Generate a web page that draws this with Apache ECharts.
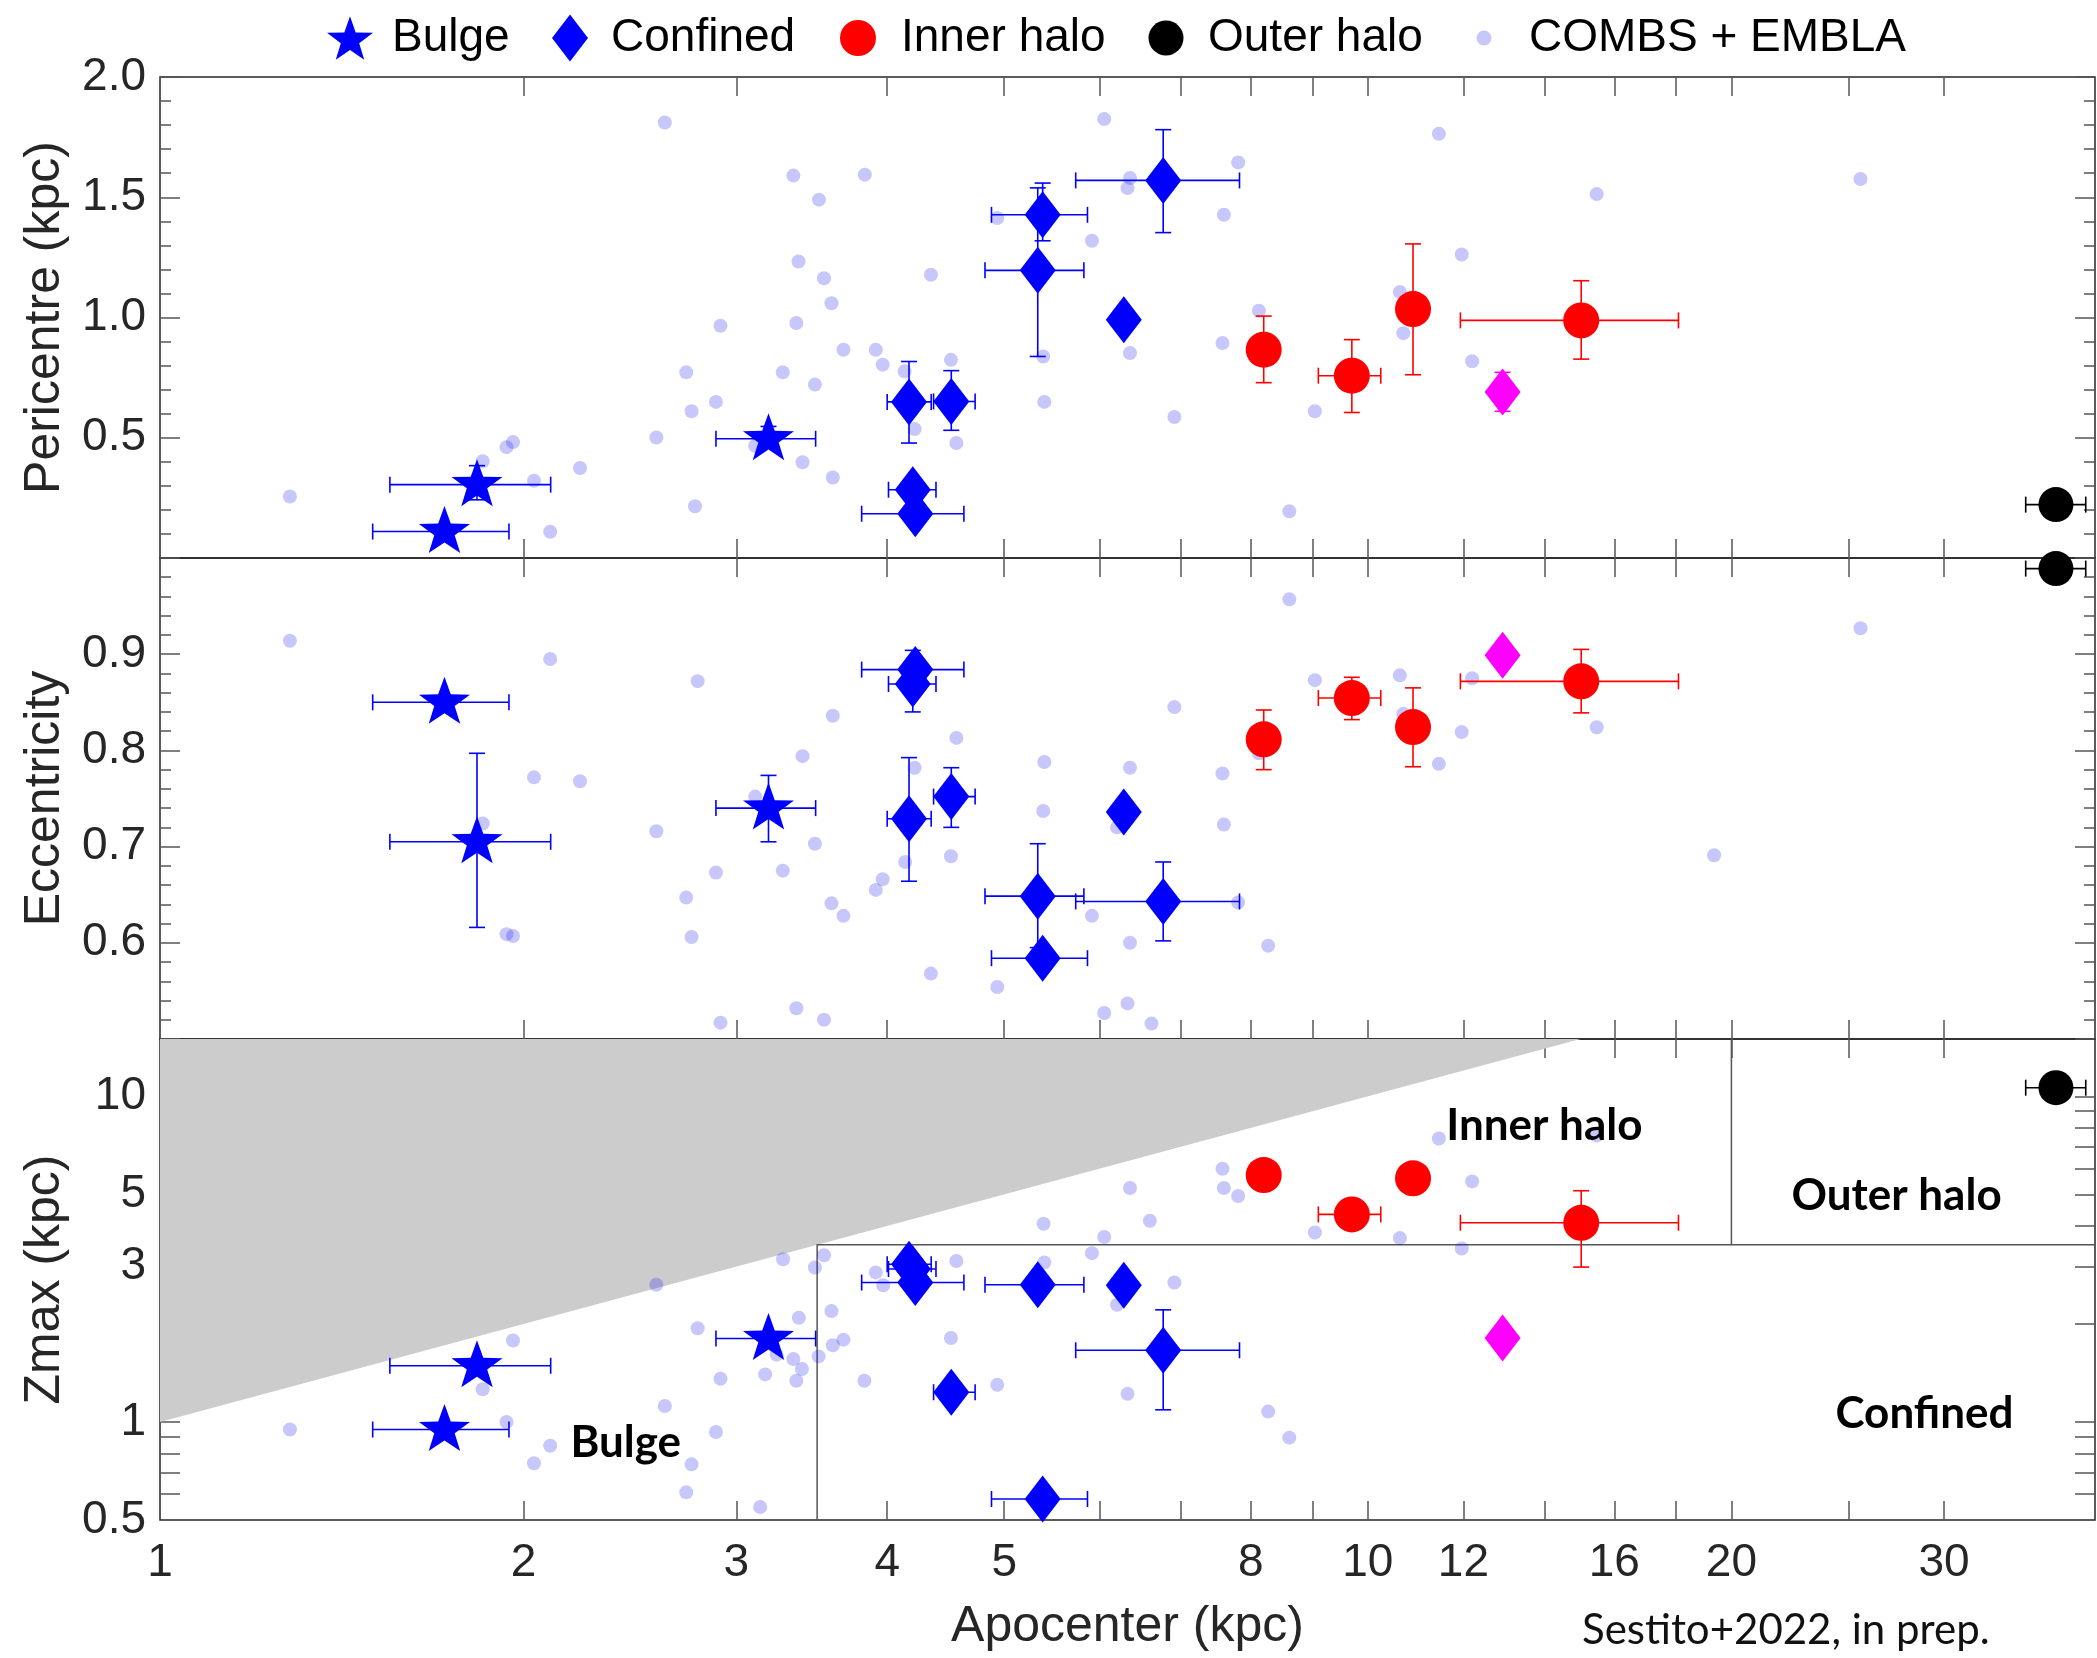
<!DOCTYPE html>
<html>
<head>
<meta charset="utf-8">
<title>Apocenter vs pericentre, eccentricity and Zmax</title>
<script src="https://cdn.jsdelivr.net/npm/echarts@6/dist/echarts.min.js"></script>
<style>
html, body { margin: 0; padding: 0; background: #fff; }
#main { width: 2097px; height: 1658px; }
</style>
</head>
<body>
<div id="main"></div>
<script>
// COMBS + EMBLA comparison sample, one list per panel: [apocenter, value]
var combsPeri = [
  [1.281,0.256],[1.85,0.402],[1.936,0.461],[1.96,0.482],[2.04,0.321],[2.104,0.109],[2.227,0.374],
  [2.576,0.501],[2.618,1.811],[2.727,0.772],[2.755,0.610],[2.773,0.215],[2.886,0.649],[2.911,0.966],
  [3.11,0.467],[3.278,0.772],[3.345,1.590],[3.364,0.977],[3.378,1.233],[3.404,0.398],[3.485,0.721],
  [3.512,1.490],[3.546,1.163],[3.597,1.059],[3.606,0.335],[3.68,0.866],[3.833,1.594],[3.914,0.866],
  [3.966,0.804],[4.135,0.776],[4.215,0.536],[4.348,1.178],[4.517,0.824],[4.564,0.478],[4.934,1.414],
  [5.386,0.838],[5.397,0.649],[5.91,1.319],[6.05,1.825],[6.325,1.538],[6.355,1.580],[6.355,0.852],
  [6.916,0.586],[7.58,0.894],[7.60,1.427],[7.81,1.645],[8.125,1.028],[8.61,0.194],[9.04,0.610],
  [10.63,1.106],[10.70,0.935],[11.45,1.764],[11.96,1.262],[12.2,0.818],[15.47,1.513],[25.58,1.576]
];
var combsEcc = [
  [1.281,0.914],[1.85,0.724],[1.936,0.609],[1.96,0.607],[2.04,0.772],[2.104,0.895],[2.227,0.768],
  [2.576,0.716],[2.727,0.647],[2.755,0.606],[2.787,0.872],[2.886,0.673],[2.911,0.517],[3.11,0.752],
  [3.278,0.675],[3.364,0.532],[3.404,0.794],[3.485,0.703],[3.546,0.520],[3.597,0.641],[3.606,0.836],
  [3.68,0.628],[3.914,0.655],[3.966,0.666],[4.14,0.684],[4.215,0.782],[4.348,0.568],[4.517,0.690],
  [4.564,0.813],[4.934,0.554],[5.386,0.737],[5.397,0.788],[5.91,0.628],[6.05,0.527],[6.325,0.537],
  [6.2,0.72],[6.355,0.782],[6.355,0.600],[6.62,0.516],[6.916,0.845],[7.58,0.776],[7.60,0.723],
  [7.81,0.642],[8.125,0.797],[8.27,0.597],[8.61,0.957],[9.04,0.873],[10.63,0.878],[10.70,0.838],
  [11.45,0.786],[11.96,0.819],[12.2,0.875],[15.47,0.824],[19.35,0.691],[25.58,0.927]
];
var combsZmax = [
  [1.281,0.948],[1.85,1.26],[1.936,1.00],[1.96,1.78],[2.04,0.747],[2.104,0.845],[2.576,2.64],
  [2.618,1.12],[2.727,0.608],[2.755,0.741],[2.787,1.94],[2.886,0.932],[2.911,1.357],[3.14,0.548],
  [3.17,1.40],[3.24,1.61],[3.28,3.16],[3.345,1.56],[3.364,1.338],[3.38,2.09],[3.40,1.455],
  [3.485,2.98],[3.51,1.59],[3.546,3.25],[3.597,2.19],[3.606,1.72],[3.68,1.79],[3.83,1.338],
  [3.914,2.88],[3.97,2.63],[4.517,1.81],[4.564,3.12],[4.934,1.30],[5.39,4.06],[5.397,3.09],
  [5.91,3.30],[6.05,3.70],[6.2,2.29],[6.325,1.22],[6.355,5.23],[6.6,4.15],[6.916,2.68],
  [7.58,5.99],[7.60,5.23],[7.81,4.94],[8.27,1.076],[8.61,0.895],[9.04,3.82],[10.63,3.67],
  [11.45,7.42],[11.96,3.41],[12.2,5.48],[15.47,7.58]
];

// programme stars, per class
var bulgeApo = [1.72, 1.83, 3.19];
var bulgeApoErr = [[1.50, 1.945], [1.55, 2.106], [2.886, 3.49]];
var bulgePeri = [0.11, 0.305, 0.496];
var bulgePeriErr = [null, [0.242, 0.384], [0.46, 0.547]];
var bulgeEcc = [0.850, 0.705, 0.740];
var bulgeEccErr = [null, [0.616, 0.797], [0.705, 0.774]];
var bulgeZmax = [0.948, 1.488, 1.804];
var bulgeZmaxErr = [null, null, null];

var confApo = [4.17, 4.52, 4.20, 4.22, 5.38, 5.33, 6.28, 6.77];
var confApoErr = [[4.0, 4.35], [4.37, 4.73], [4.01, 4.39], [3.81, 4.63], [4.88, 5.86], [4.82, 5.82], null, [5.73, 7.83]];
var confPeri = [0.649, 0.651, 0.284, 0.184, 1.427, 1.196, 0.991, 1.570];
var confPeriErr = [[0.478, 0.817], [0.531, 0.779], null, null, [1.319, 1.559], [0.838, 1.539], null, [1.353, 1.781]];
var confEcc = [0.729, 0.752, 0.869, 0.884, 0.584, 0.6485, 0.736, 0.643];
var confEccErr = [[0.664, 0.7925], [0.720, 0.782], [0.840, 0.904], null, null, [0.595, 0.703], null, [0.602, 0.684]];
var confZmax = [3.05, 1.234, 2.95, 2.68, 0.58, 2.64, 2.63, 1.66];
var confZmaxErr = [null, null, null, null, null, null, null, [1.09, 2.21]];

var innerApo = [8.20, 9.70, 10.90, 15.02];
var innerApoErr = [null, [9.10, 10.25], null, [11.93, 18.08]];
var innerPeri = [0.866, 0.758, 1.035, 0.988];
var innerPeriErr = [[0.729, 1.006], [0.605, 0.908], [0.762, 1.306], [0.827, 1.153]];
var innerEcc = [0.8115, 0.8544, 0.8243, 0.8718];
var innerEccErr = [[0.780, 0.842], [0.832, 0.876], [0.783, 0.865], [0.839, 0.905]];
var innerZmax = [5.73, 4.34, 5.60, 4.09];
var innerZmaxErr = [null, null, null, [2.99, 5.13]];

var outerApo = [37.13];
var outerApoErr = [[35.05, 39.3]];
var outerPeri = [0.222];
var outerEcc = [0.989];
var outerZmax = [10.63];

var oddApo = [12.93];
var oddPeri = [0.690];
var oddPeriErr = [[0.61, 0.772]];
var oddEcc = [0.899];
var oddZmax = [1.81];

// axis ticks
var apoTicks = [2, 3, 4, 5, 6, 7, 8, 9, 10, 12, 14, 16, 18, 20, 25, 30];
var apoLabels = [1, 2, 3, 4, 5, 8, 10, 12, 16, 20, 30];
var zmaxTicks = [0.6, 0.7, 0.8, 0.9, 1, 2, 3, 4, 5, 6, 7, 8, 9, 10];
var zmaxLabels = [0.5, 1, 3, 5, 10];

// Zmax = apocenter limit and the class boxes in the bottom panel
var zmaxLimit = [[1, 1], [15, 15], [1, 15]];
var confinedBox = [[3.5, 0.5], [3.5, 3.5], [40, 3.5]];
var haloSplit = [[20, 3.5], [20, 15]];
var regionNames = ['Inner halo', 'Outer halo', 'Confined', 'Bulge'];
var regionPos = [[14.0, 8.1], [27.4, 4.95], [28.9, 1.06], [2.43, 0.86]];

var lg = Math.log10;
var FONT = '"Liberation Sans", Arial, Helvetica, sans-serif';
var TXT = '#262626';
var tickLine = { color: '#555', width: 1.5 };

function starSymbol() {
  var pts = [];
  for (var k = 0; k < 10; k++) {
    var r = k % 2 === 0 ? 1 : 0.4;
    var a = -Math.PI / 2 + k * Math.PI / 5;
    pts.push((r * Math.cos(a)).toFixed(4) + ',' + (r * Math.sin(a)).toFixed(4));
  }
  return 'path://M' + pts.join('L') + 'Z';
}
var STAR = starSymbol();
var DIAMOND = 'path://M18,0L36,23.5L18,47L0,23.5Z';

var groups = [
  { name: 'Bulge', color: '#0000ff', symbol: STAR, size: [51, 47], offset: [0, -2],
    apo: bulgeApo, apoErr: bulgeApoErr,
    vals: [bulgePeri, bulgeEcc, bulgeZmax], errs: [bulgePeriErr, bulgeEccErr, bulgeZmaxErr] },
  { name: 'Confined', color: '#0000ff', symbol: DIAMOND, size: [36, 47], offset: [0, 0],
    apo: confApo, apoErr: confApoErr,
    vals: [confPeri, confEcc, confZmax], errs: [confPeriErr, confEccErr, confZmaxErr] },
  { name: 'Inner halo', color: '#ff0000', symbol: 'circle', size: 36, offset: [0, 0],
    apo: innerApo, apoErr: innerApoErr,
    vals: [innerPeri, innerEcc, innerZmax], errs: [innerPeriErr, innerEccErr, innerZmaxErr] },
  { name: 'Outer halo', color: '#000000', symbol: 'circle', size: 35, offset: [0, 0],
    apo: outerApo, apoErr: outerApoErr,
    vals: [outerPeri, outerEcc, outerZmax], errs: [[null], [null], [null]] },
  { name: 'Unclassified', color: '#ff00ff', symbol: DIAMOND, size: [36, 47], offset: [0, 0],
    apo: oddApo, apoErr: [null],
    vals: [oddPeri, oddEcc, oddZmax], errs: [oddPeriErr, [null], [null]] }
];
var combs = [combsPeri, combsEcc, combsZmax];

var LEFT = 160, WIDTH = 1935, HEIGHT = 481;
var TOPS = [77, 558, 1039];
var yData = [0, 2, 4];

var grids = TOPS.map(function (t) {
  return { left: LEFT, top: t, width: WIDTH, height: HEIGHT, show: true,
    borderColor: '#262626', borderWidth: 1.5, containLabel: false, outerBoundsMode: 'none' };
});

function apoTickAxis(g, pos, labels) {
  var ax = {
    type: 'value', gridIndex: g, position: pos, min: 0, max: lg(40),
    axisLine: { show: false, onZero: false },
    splitLine: { show: false },
    axisTick: { show: true, inside: true, length: 19, lineStyle: tickLine, customValues: apoTicks.map(lg) },
    axisLabel: { show: false }
  };
  if (labels) {
    ax.axisLabel = { show: true, customValues: apoLabels.map(lg), margin: 20,
      fontSize: 46, fontFamily: FONT, color: TXT,
      formatter: function (v) { return String(Math.round(Math.pow(10, v))); } };
    ax.name = 'Apocenter (kpc)';
    ax.nameLocation = 'middle';
    ax.nameGap = 82;
    ax.nameTextStyle = { fontSize: 50, fontFamily: FONT, color: TXT };
  }
  return ax;
}

var xAxes = [];
for (var g = 0; g < 3; g++) {
  xAxes.push({ type: 'log', gridIndex: g, position: 'bottom', min: 1, max: 40, show: false,
    axisLine: { onZero: false } });
  xAxes.push(apoTickAxis(g, 'bottom', g === 2));
  xAxes.push(apoTickAxis(g, 'top', false));
}

function linAxis(g, pos, min, max, step, fmt, name) {
  var ax = {
    type: 'value', gridIndex: g, position: pos, min: min, max: max, interval: step,
    axisLine: { show: false, onZero: false },
    splitLine: { show: false },
    axisTick: { show: true, inside: true, length: 20, lineStyle: tickLine },
    minorTick: { show: true, splitNumber: 5, length: 11, lineStyle: tickLine },
    axisLabel: fmt ? { show: true, formatter: fmt, margin: 14, fontSize: 46, fontFamily: FONT, color: TXT } : { show: false }
  };
  if (name) {
    ax.name = name;
    ax.nameLocation = 'middle';
    ax.nameGap = 90;
    ax.nameTextStyle = { fontSize: 50, fontFamily: FONT, color: TXT };
  }
  return ax;
}

function zmaxTickAxis(pos, labels) {
  var ax = {
    type: 'value', gridIndex: 2, position: pos, min: lg(0.5), max: lg(15),
    axisLine: { show: false, onZero: false },
    splitLine: { show: false },
    axisTick: { show: true, inside: true, length: 20, lineStyle: tickLine, customValues: zmaxTicks.map(lg) },
    axisLabel: { show: false }
  };
  if (labels) {
    ax.axisLabel = { show: true, customValues: zmaxLabels.map(lg), margin: 14,
      fontSize: 46, fontFamily: FONT, color: TXT,
      formatter: function (v) {
        var n = Math.pow(10, v);
        return n < 0.99 ? n.toFixed(1) : String(Math.round(n));
      } };
    ax.name = 'Zmax (kpc)';
    ax.nameLocation = 'middle';
    ax.nameGap = 90;
    ax.nameTextStyle = { fontSize: 50, fontFamily: FONT, color: TXT };
  }
  return ax;
}

var yAxes = [
  linAxis(0, 'left', 0, 2, 0.5, function (v) { return v === 0 ? '' : v.toFixed(1); }, 'Pericentre (kpc)'),
  linAxis(0, 'right', 0, 2, 0.5, null),
  linAxis(1, 'left', 0.5, 1, 0.1, function (v) { return (v > 0.55 && v < 0.95) ? v.toFixed(1) : ''; }, 'Eccentricity'),
  linAxis(1, 'right', 0.5, 1, 0.1, null),
  { type: 'log', gridIndex: 2, position: 'left', min: 0.5, max: 15, show: false, axisLine: { onZero: false } },
  zmaxTickAxis('left', true),
  zmaxTickAxis('right', false)
];

function errorBarRenderer(color) {
  return function (params, api) {
    var x = api.value(0), y = api.value(1);
    var xl = api.value(2), xh = api.value(3), yl = api.value(4), yh = api.value(5);
    var style = { stroke: color, lineWidth: 1.6, fill: null };
    var c = 8;
    var kids = [];
    function seg(a, b) {
      kids.push({ type: 'line', shape: { x1: a[0], y1: a[1], x2: b[0], y2: b[1] }, style: style });
    }
    if (!isNaN(xl) && !isNaN(xh)) {
      var l = api.coord([xl, y]), r = api.coord([xh, y]);
      seg(l, r);
      seg([l[0], l[1] - c], [l[0], l[1] + c]);
      seg([r[0], r[1] - c], [r[0], r[1] + c]);
    }
    if (!isNaN(yl) && !isNaN(yh)) {
      var b = api.coord([x, yl]), t = api.coord([x, yh]);
      seg(b, t);
      seg([b[0] - c, b[1]], [b[0] + c, b[1]]);
      seg([t[0] - c, t[1]], [t[0] + c, t[1]]);
    }
    return { type: 'group', children: kids };
  };
}

var series = [];
for (var p = 0; p < 3; p++) {
  series.push({
    type: 'scatter', name: 'COMBS + EMBLA', xAxisIndex: 3 * p, yAxisIndex: yData[p],
    data: combs[p], symbol: 'circle', symbolSize: 14,
    itemStyle: { color: 'rgba(20,20,240,0.24)', opacity: 1 }, z: 3, silent: true, clip: false
  });
  groups.forEach(function (gr) {
    var rows = gr.apo.map(function (a, i) {
      var xe = gr.apoErr[i] || [null, null];
      var ye = gr.errs[p][i] || [null, null];
      return [a, gr.vals[p][i], xe[0], xe[1], ye[0], ye[1]];
    });
    series.push({
      type: 'custom', name: gr.name + ' err', xAxisIndex: 3 * p, yAxisIndex: yData[p],
      dimensions: ['x', 'y', 'xl', 'xh', 'yl', 'yh'], encode: { x: 0, y: 1 },
      renderItem: errorBarRenderer(gr.color), data: rows, z: 4, silent: true
    });
    series.push({
      type: 'scatter', name: gr.name, xAxisIndex: 3 * p, yAxisIndex: yData[p],
      data: gr.apo.map(function (a, i) { return [a, gr.vals[p][i]]; }),
      symbol: gr.symbol, symbolSize: gr.size, symbolOffset: gr.offset,
      itemStyle: { color: gr.color, opacity: 1 }, z: 5, silent: true, clip: false
    });
  });
}

// bottom panel: forbidden region, class boxes and their names
series.push({
  type: 'custom', name: 'limit', xAxisIndex: 6, yAxisIndex: 4, data: [zmaxLimit[0]], z: 1, silent: true,
  renderItem: function (params, api) {
    return { type: 'polygon', shape: { points: zmaxLimit.map(function (v) { return api.coord(v); }) },
      style: { fill: '#cccccc', stroke: null } };
  }
});
[confinedBox, haloSplit].forEach(function (d) {
  series.push({ type: 'line', name: 'box', xAxisIndex: 6, yAxisIndex: 4, data: d, symbol: 'none',
    lineStyle: { color: '#555', width: 1.5 }, z: 2, silent: true, clip: false, animation: false });
});
series.push({
  type: 'scatter', name: 'regions', xAxisIndex: 6, yAxisIndex: 4, data: regionPos,
  symbolSize: 1, itemStyle: { color: 'transparent', opacity: 1 }, z: 6, silent: true,
  label: { show: true, position: 'inside', fontSize: 44, fontWeight: 'bold', fontFamily: 'Lato', color: '#000',
    formatter: function (prm) { return regionNames[prm.dataIndex]; } }
});

// legend entries: icon centre, icon size and text start
var legendItems = [
  { name: 'Bulge', cx: 350, w: 46, h: 44, tx: 392 },
  { name: 'Confined', cx: 570, w: 36, h: 47, tx: 611 },
  { name: 'Inner halo', cx: 858, w: 36, h: 36, tx: 901 },
  { name: 'Outer halo', cx: 1166, w: 35, h: 35, tx: 1208 },
  { name: 'COMBS + EMBLA', cx: 1484, w: 15, h: 15, tx: 1529 }
];
var legends = legendItems.map(function (it) {
  var left = it.cx - it.w / 2;
  return {
    data: [it.name], left: left, top: 38 - Math.max(it.h, 50) / 2, padding: 0,
    itemWidth: it.w, itemHeight: it.h, selectedMode: false,
    textStyle: { fontSize: 46, fontFamily: FONT, color: '#000', lineHeight: 50,
      padding: [0, 0, 0, Math.max(0, it.tx - (left + it.w + 5))] }
  };
});

var myChart = echarts.init(document.getElementById('main'), null, { renderer: 'canvas' });
myChart.setOption({
  backgroundColor: '#ffffff',
  animation: false,
  textStyle: { fontFamily: FONT },
  legend: legends,
  grid: grids,
  xAxis: xAxes,
  yAxis: yAxes,
  series: series,
  graphic: [{
    type: 'text', left: 1582, top: 1609,
    style: { text: 'Sestito+2022, in prep.', fontSize: 42, fontFamily: 'Lato', fill: '#111' }
  }]
});
</script>
</body>
</html>
